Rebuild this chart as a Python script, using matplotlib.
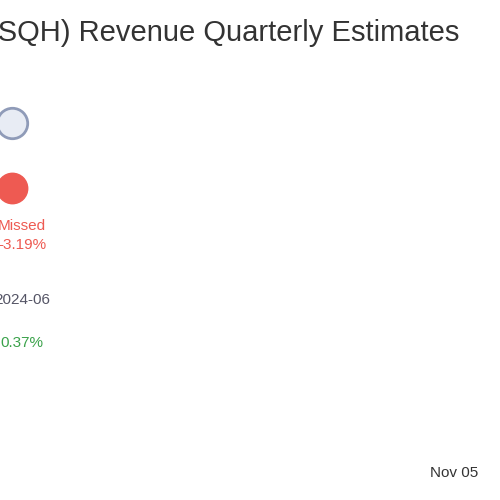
import matplotlib
matplotlib.use("Agg")
import matplotlib.pyplot as plt

title = "(SQH) Revenue Quarterly Estimates"
status = ["Missed"]
surprise_pct = [-3.19]
period = ["2024-06"]
growth_pct = [0.37]
date_label = "Nov 05"

fig = plt.figure(figsize=(5, 5), dpi=100)
ax = fig.add_axes([0, 0, 1, 1])
ax.set_xlim(0, 500)
ax.set_ylim(500, 0)
ax.axis("off")

ax.text(-12, 33, title, fontsize=21, color="#333333",
        ha="left", va="center", family="Liberation Sans")

ax.scatter([12], [123], s=480, facecolor="#e8ecf4", edgecolor="#8f9bb8", linewidth=2, zorder=3)
ax.scatter([12], [188], s=480, facecolor="#ee5a52", edgecolor="#ee5a52", zorder=3)

ax.text(22, 226, status[0], fontsize=11, color="#ee5a52", ha="center", va="center", family="Liberation Sans")
ax.text(22, 245, f"{surprise_pct[0]:.2f}%", fontsize=11, color="#ee5a52", ha="center", va="center", family="Liberation Sans")
ax.text(22, 300, period[0], fontsize=11, color="#555566", ha="center", va="center", family="Liberation Sans")
ax.text(22, 343, f"{growth_pct[0]:.2f}%", fontsize=11, color="#3aa24a", ha="center", va="center", family="Liberation Sans")
ax.text(430, 473, date_label, fontsize=11, color="#333333", ha="left", va="center", family="Liberation Sans")

fig.savefig("out.png", dpi=100)
